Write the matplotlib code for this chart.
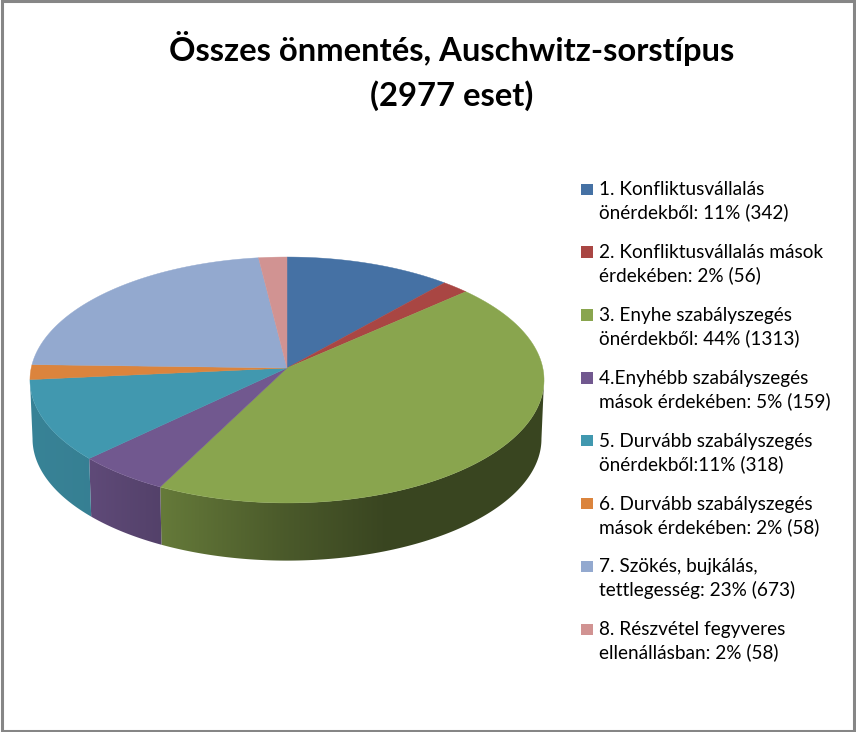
import numpy as np
import matplotlib
matplotlib.use('Agg')
import matplotlib.pyplot as plt
from matplotlib.colors import to_rgb
from matplotlib.patches import Rectangle, Polygon

# Adatok
esetek = [342, 56, 1313, 159, 318, 58, 673, 58]
cimkek = [
    '1. Konfliktusvállalás\nönérdekből: 11% (342)',
    '2. Konfliktusvállalás mások\nérdekében: 2% (56)',
    '3. Enyhe szabályszegés\nönérdekből: 44% (1313)',
    '4.Enyhébb szabályszegés\nmások érdekében: 5% (159)',
    '5. Durvább szabályszegés\nönérdekből:11% (318)',
    '6. Durvább szabályszegés\nmások érdekében: 2% (58)',
    '7. Szökés, bujkálás,\ntettlegesség: 23% (673)',
    '8. Részvétel fegyveres\nellenállásban: 2% (58)',
]
szinek = ['#4571A4', '#A94643', '#89A54E', '#71588F', '#4198AF', '#DB843D', '#93A9CF', '#D19392']
cim = 'Összes önmentés, Auschwitz-sorstípus\n(2977 eset)'

plt.rcParams['font.family'] = ['Lato', 'DejaVu Sans']

fig = plt.figure(figsize=(8.56, 7.32), dpi=100)
ax = fig.add_axes([0, 0, 1, 1])


# kor -> perspektivikus kep (felso es also lap)
def vetit(theta, y0=368.0, sk=1.0):
    u, v = np.sin(theta), np.cos(theta)
    w = 1 + 0.0975 * v
    return 287 + 255.8 * sk * u / w, y0 - 121.8 * sk * v / w


def arnyek(x):
    return np.interp(x, [30, 90, 160, 280, 385, 545], [0.86, 0.84, 0.74, 0.55, 0.42, 0.42])


hatarok = np.radians(np.cumsum([0] + esetek) / sum(esetek) * 360)
hatar_t = np.pi - np.arccos(0.0975)  # itt kezdodik a lathato oldalfal

# oldalfal, vizszintes szinatmenettel
xs = np.arange(25, 550)
for i, szin in enumerate(szinek):
    t0, t1 = max(hatarok[i], hatar_t), min(hatarok[i + 1], 2 * np.pi - hatar_t)
    if t1 <= t0:
        continue
    t = np.linspace(t0, t1, 150)
    x1, y1 = vetit(t)
    x2, y2 = vetit(t[::-1], y0=427.0, sk=0.99)
    grad = arnyek(xs)[None, :, None] * np.array(to_rgb(szin))[None, None, :]
    kep = ax.imshow(grad, extent=(25, 550, 600, 300), aspect='auto', zorder=2, interpolation='bilinear')
    kep.set_clip_path(Polygon(np.c_[np.r_[x1, x2], np.r_[y1, y2]], transform=ax.transData))

# felso lap
for i, szin in enumerate(szinek):
    t = np.linspace(hatarok[i], hatarok[i + 1], 120)
    x, y = vetit(t)
    ax.fill(np.r_[287, x], np.r_[368, y], color=szin, lw=0.3, zorder=3)

ax.set_xlim(0, 856)
ax.set_ylim(732, 0)
ax.axis('off')

# keret
ax.add_patch(Rectangle((2, 1), 852, 729.5, fill=False, ec='#868686', lw=2.2, zorder=5))

ax.text(452, 71, cim, ha='center', va='center', fontsize=23.6, fontweight='bold',
        color='black', linespacing=1.58)

# jelmagyarazat
for i, (szin, cimke) in enumerate(zip(szinek, cimkek)):
    yk = 201.5 + i * 62.86
    ax.add_patch(Rectangle((581.5, yk - 18), 11.5, 11.5, fc=szin, ec='none', zorder=4))
    ax.text(599, yk, cimke, ha='left', va='center', fontsize=13.7, color='black', linespacing=1.35)

fig.savefig('out.png', dpi=100)
